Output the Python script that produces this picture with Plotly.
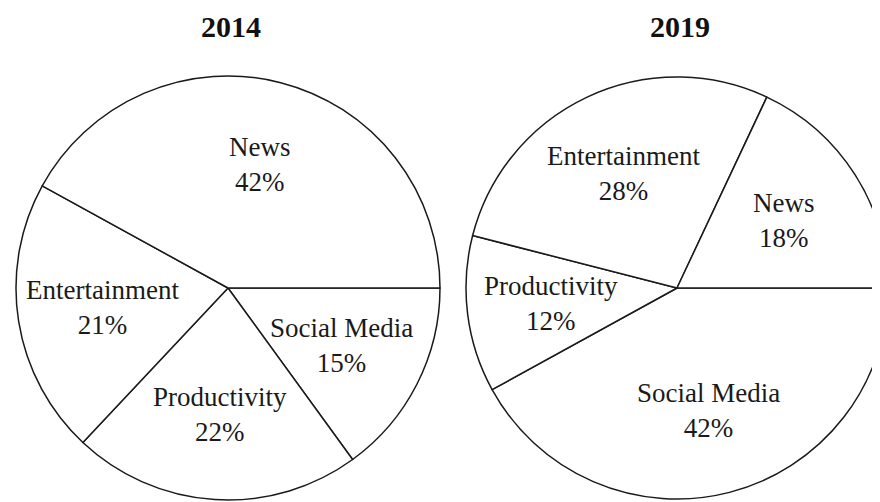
import math
import plotly.graph_objects as go

categories_2014 = ["Social Media", "Productivity", "Entertainment", "News"]
values_2014 = [15, 22, 21, 42]
categories_2019 = ["Social Media", "Productivity", "Entertainment", "News"]
values_2019 = [42, 12, 28, 18]
titles = ["2014", "2019"]

W, H = 880, 502
FONT = "Liberation Serif, Times New Roman, serif"
LABEL_FRAC = 0.6

# pie boxes in figure pixels (left, top, size)
boxes = [(8, 68, 424), (458, 69, 422)]

fig = go.Figure()
for (labels, values, title), (left, top, size) in zip(
        [(categories_2014, values_2014, titles[0]), (categories_2019, values_2019, titles[1])], boxes):
    xd = [left / W, min(1.0, (left + size) / W)]
    yd = [1 - (top + size) / H, 1 - top / H]
    fig.add_trace(go.Pie(
        labels=labels, values=values, sort=False, direction="clockwise", rotation=90,
        domain=dict(x=xd, y=yd),
        marker=dict(colors=["white"] * len(values), line=dict(color="#1a1a1a", width=1.5)),
        textinfo="none", hoverinfo="label+percent", showlegend=False,
    ))
    w = xd[1] * W - xd[0] * W
    h = (yd[1] - yd[0]) * H
    r = min(w, h) / 2
    cx = (xd[0] + xd[1]) / 2 * W
    cy = (1 - (yd[0] + yd[1]) / 2) * H
    total = sum(values)
    cum = 0
    for lab, v in zip(labels, values):
        mid = (cum + v / 2) / total * 360  # clockwise from east
        cum += v
        a = math.radians(mid)
        px = cx + LABEL_FRAC * r * math.cos(a)
        py = cy + LABEL_FRAC * r * math.sin(a)
        fig.add_annotation(text="%s<br>%d%%" % (lab, v), x=px / W, y=1 - py / H,
                           xref="paper", yref="paper", showarrow=False,
                           font=dict(family=FONT, size=27, color="#1a1a1a"),
                           xanchor="center", yanchor="middle")
    fig.add_annotation(text="<b>%s</b>" % title, x=(cx + 3) / W, y=1.0,
                       xref="paper", yref="paper", showarrow=False,
                       font=dict(family=FONT, size=30, color="#111"),
                       xanchor="center", yanchor="top")

fig.update_layout(width=W, height=H, margin=dict(l=0, r=0, t=0, b=0),
                  paper_bgcolor="white", plot_bgcolor="white")
fig.write_html("out.html")
